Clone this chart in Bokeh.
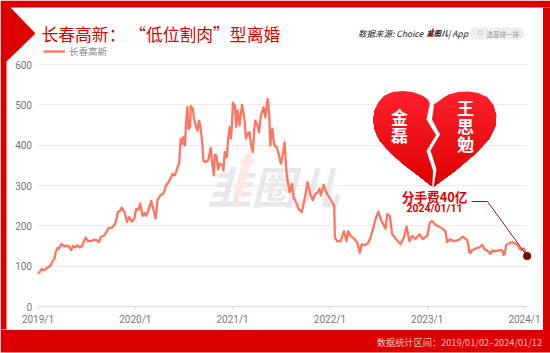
from bokeh.plotting import figure
from bokeh.embed import file_html
from bokeh.resources import INLINE
from bokeh.models import (Label, PolyAnnotation, BoxAnnotation, Legend, LegendItem, FixedTicker,
                          GlobalInlineStyleSheet, Range1d)

# ---- data -----------------------------------------------------------------
series_name = "长春高新"
years = [2019.000,2019.017,2019.038,2019.058,2019.079,2019.099,2019.127,2019.144,2019.168,2019.182,
 2019.202,2019.216,2019.240,2019.264,2019.291,2019.315,2019.342,2019.360,2019.384,2019.408,
 2019.428,2019.452,2019.469,2019.490,2019.514,2019.545,2019.572,2019.599,2019.627,2019.647,
 2019.682,2019.726,2019.760,2019.795,2019.822,2019.839,2019.860,2019.887,2019.914,2019.938,
 2019.966,2019.990,2020.010,2020.031,2020.051,2020.075,2020.096,2020.113,2020.137,2020.164,
 2020.188,2020.209,2020.229,2020.257,2020.291,2020.315,2020.346,2020.377,
 2020.382,2020.406,2020.416,2020.440,2020.450,2020.467,2020.485,2020.495,2020.512,2020.519,
 2020.536,2020.546,2020.563,2020.570,2020.591,2020.604,2020.622,2020.639,2020.656,2020.673,
 2020.690,2020.700,2020.714,2020.748,2020.776,2020.786,2020.807,2020.817,2020.834,2020.851,
 2020.868,2020.896,2020.906,2020.919,2020.940,2020.954,2020.971,2020.981,2020.991,
 2021.003,2021.024,2021.038,2021.051,2021.072,2021.096,2021.120,2021.137,2021.154,2021.175,
 2021.188,2021.209,2021.223,2021.233,2021.257,2021.271,2021.291,2021.318,2021.336,2021.360,
 2021.377,2021.387,2021.408,2021.428,2021.455,2021.473,2021.497,2021.517,2021.534,2021.551,
 2021.565,2021.586,2021.610,2021.627,2021.651,2021.678,2021.712,2021.747,2021.771,2021.798,
 2021.825,2021.849,2021.873,2021.894,2021.908,2021.935,2021.962,2021.993,2022.021,2022.045,
 2022.051,2022.075,2022.110,2022.144,2022.171,2022.188,2022.212,2022.247,2022.281,2022.308,
 2022.325,2022.360,2022.394,2022.418,2022.452,2022.469,2022.497,2022.531,2022.572,2022.589,
 2022.616,2022.640,2022.682,2022.726,2022.760,2022.788,2022.818,2022.846,2022.880,2022.921,
 2022.955,2023.000,2023.027,2023.051,2023.086,2023.137,2023.188,2023.205,2023.240,2023.274,
 2023.325,2023.366,2023.411,2023.425,2023.432,2023.445,2023.460,2023.479,2023.500,2023.531,
 2023.550,2023.565,2023.580,2023.592,2023.615,2023.634,2023.650,2023.668,2023.690,2023.719,
 2023.745,2023.771,2023.785,2023.798,2023.810,2023.830,2023.873,2023.925,2023.959,2023.993,2024.027]
prices = [82,85,93,90,92,97,100,110,118,135,
 145,143,155,150,150,150,140,150,147,152,
 146,150,160,171,162,162,165,165,160,173,
 176,195,195,205,235,236,245,235,210,222,
 210,218,242,240,255,225,232,225,240,262,
 240,218,265,275,280,300,310,325,
 329,325,331,350,354,416,403,420,400,449,
 494,440,445,497,490,465,449,436,461,440,
 399,362,358,362,393,366,325,376,374,340,
 354,350,337,383,370,416,445,416,441,
 505,498,445,486,449,500,470,416,428,432,
 403,383,441,461,449,432,474,494,469,515,
 474,399,441,399,395,378,354,378,407,341,
 312,283,304,271,259,242,234,275,308,279,
 263,279,283,292,275,302,283,271,259,250,
 171,162,162,187,162,187,175,169,158,133,
 154,152,158,171,200,217,235,212,193,229,
 225,179,167,154,171,198,162,175,167,179,
 167,175,208,212,202,196,187,160,167,162,
 165,173,165,150,135,132,140,141,144,146,
 150,153,146,141,139,136,130,139,137,138,
 140,139,128,130,152,155,160,154,140,144,125]
y_ticks = [0, 100, 200, 300, 400, 500, 600]
x_ticks = [2019, 2020, 2021, 2022, 2023, 2024]
x_tick_labels = ["2019/1", "2020/1", "2021/1", "2022/1", "2023/1", "2024/1"]
title_text = "长春高新： “低位割肉”型离婚"
source_text = "数据来源: Choice ·"
footer_text = "数据统计区间：2019/01/02–2024/01/12"

# ---- geometry --------------------------------------------------------------
W, H = 550, 353
F_T, F_B = 64, 306
PX_PER_YEAR = 97.3
PX_PER_UNIT = (F_B - F_T) / 600
X = lambda px: 2019 + (px - 37.5) / PX_PER_YEAR
Y = lambda py: (F_B - py) / PX_PER_UNIT

p = figure(width=W, height=H, output_backend="svg", toolbar_location=None,
           x_range=Range1d(X(0), X(W)), y_range=Range1d(Y(H), Y(0)),
           min_border=0)
p.stylesheets = [GlobalInlineStyleSheet(css="html,body{margin:0!important;padding:0;overflow:hidden;background:#fff}")]
p.outline_line_color = None
p.background_fill_color = "white"
p.border_fill_color = "white"

# axes
xa, ya = p.xaxis[0], p.yaxis[0]
xa.fixed_location = 0
ya.fixed_location = 2019
xa.ticker = FixedTicker(ticks=x_ticks)
xa.major_label_overrides = dict(zip(x_ticks, x_tick_labels))
xa.bounds = (2019, X(527))
ya.bounds = (0, 600)
xa.axis_line_color = "#dddddd"
xa.axis_line_width = 1.5
xa.major_tick_line_color = "#dddddd"
xa.major_tick_in = 0
xa.major_tick_out = 4
xa.minor_tick_line_color = None
xa.major_label_standoff = 3
ya.ticker = FixedTicker(ticks=y_ticks)
ya.axis_line_color = None
ya.major_tick_line_color = None
ya.major_tick_in = 0
ya.major_tick_out = 0
ya.minor_tick_line_color = None
ya.major_label_standoff = 6
for a in (xa, ya):
    a.major_label_text_font = "Roboto"
    a.major_label_text_font_size = "10px"
    a.major_label_text_color = "#777777"
p.xgrid.visible = False
p.ygrid.ticker = FixedTicker(ticks=y_ticks)
p.ygrid.grid_line_color = "#ebebeb"
p.ygrid.grid_line_width = 1
p.ygrid.cross_bounds = (2019, X(527))


def poly(pts, color, level="annotation", alpha=1.0):
    a = PolyAnnotation(xs=[X(q[0]) for q in pts], ys=[Y(q[1]) for q in pts],
                       fill_color=color, fill_alpha=alpha, line_color=None, level=level)
    p.add_layout(a)
    return a


def text(px, py, s, size, color, align="left", style="normal", font="Noto Sans CJK SC", level="annotation"):
    p.add_layout(Label(x=X(px), y=Y(py), text=s, text_font=font, text_font_size=f"{size}px",
                       text_color=color, text_align=align, text_baseline="middle",
                       text_font_style=style, level=level))


# watermark beneath the line
text(207, 184, "韭圈儿", 44, "#e8e8e8", style="bold italic", level="underlay")
poly([(248, 152), (256, 163), (250.5, 163), (240, 197), (232, 197), (243, 163), (238, 163)], "#fde7e4", level="underlay")

# line
line = p.line(years, prices, line_color="#FF7561", line_width=2.3, line_join="round")

# frame
RED = "#DC0000"
poly([(0, 0), (550, 0), (550, 7), (10, 7), (35, 33), (6, 61), (6, 329), (0, 329)], RED)
poly([(542.5, 7), (550, 7), (550, 329.5), (542.5, 329.5)], RED)
poly([(0, 329.5), (550, 329.5), (550, 352), (0, 352)], RED)

# header
text(41, 33.5, title_text, 16.8, "#DD0000")
text(357.5, 32.5, source_text, 8.5, "#222222", style="italic")
text(426, 32.5, "韭圈儿", 7.2, "#111111", style="bold italic")
poly([(432, 28), (433.5, 28), (431.5, 36), (430, 36)], "#E60012")
text(447.5, 32.5, "| App", 8.5, "#222222", style="italic")
p.add_layout(BoxAnnotation(left=X(469), right=X(524), top=Y(27), bottom=Y(39), fill_color="#eeeeee",
                           fill_alpha=1, line_color=None, border_radius=6))
p.add_layout(BoxAnnotation(left=X(477.5), right=X(482), top=Y(30), bottom=Y(34.5), fill_color="#eeeeee",
                           fill_alpha=1, line_color="#777777", line_width=1, border_radius=3))
text(486, 33, "选基排一排", 6.5, "#999999")

# legend
legend = Legend(items=[LegendItem(label=series_name, renderers=[line])], location=(43, 353 - 58),
                border_line_color=None, background_fill_alpha=0, padding=0, margin=0,
                glyph_width=22, glyph_height=12, label_text_font="Noto Sans CJK SC",
                label_text_font_size="9.5px", label_text_color="#888888", label_standoff=4)
p.add_layout(legend)

# broken heart, darkening towards its tip
heart = [(431, 106), (427, 99), (421.7, 95), (412, 91.5), (402, 90.5), (392, 91.5), (384, 95), (378, 102), (374, 110),
         (372.7, 120), (374.5, 130), (379, 140), (390, 152), (402, 163), (414, 172), (432.5, 186.5),
         (455, 170), (475, 153), (489, 138), (495, 125), (495.7, 115), (493, 105), (487, 97), (478, 92.5),
         (468, 91), (458, 91.5), (448, 94), (438, 101)]


def clip_below(pts, y0):
    out = []
    for i, a in enumerate(pts):
        b = pts[(i + 1) % len(pts)]
        if a[1] >= y0:
            out.append(a)
        if (a[1] >= y0) != (b[1] >= y0):
            t = (y0 - a[1]) / (b[1] - a[1])
            out.append((a[0] + t * (b[0] - a[0]), y0))
    return out


steps = 16
for i in range(steps):
    t = i / (steps - 1)
    col = "#%02X%02X%02X" % (round(255 - 35 * t), round(32 - 32 * t), round(44 - 44 * t))
    y0 = 90 + i * 97 / steps
    poly(clip_below(heart, y0) if i else heart, col)
poly([(429.5, 102), (433.5, 105), (431.5, 119), (439.5, 134), (430, 150), (436, 169), (433, 187), (431.8, 187),
      (432.5, 170), (426, 150.5), (435.5, 134.5), (426, 119)], "#ffffff")
for px, py, s in [(399, 115.5, "金"), (399, 133.5, "磊"), (465, 107, "王"), (465, 124.5, "思"), (465, 143, "勉")]:
    text(px, py, s, 17, "#ffffff", align="center", style="bold")

# callout
text(434, 195.5, "分手费40亿", 12.7, "#DD0000", align="center", style="bold")
text(434, 208, "2024/01/11", 10.5, "#DD0000", align="center", style="bold", font="Roboto")
leader_x = [X(471), X(487), years[-1]]
leader_y = [Y(201), Y(201), prices[-1]]
p.line(leader_x, leader_y, line_color="#8E1B1B", line_width=1)
p.scatter([years[-1]], [prices[-1]], size=8, marker="circle", fill_color="#7D0A0A", line_color=None)

# footer
text(541.5, 341.5, footer_text, 9.2, "#F6C9C4", align="right", font="Noto Sans CJK SC")

open("out.html", "w").write(file_html(p, INLINE))
